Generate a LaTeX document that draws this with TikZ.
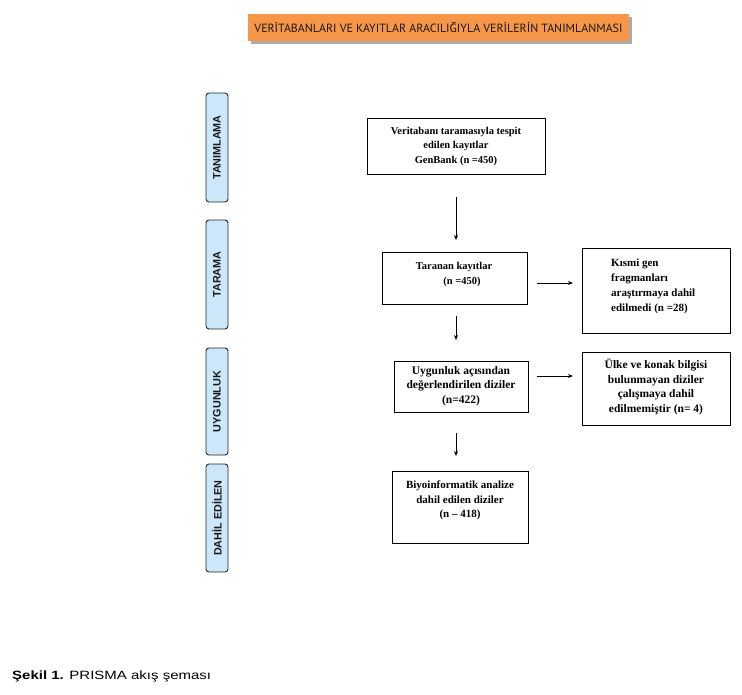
\documentclass[tikz,border=0pt]{standalone}
\usepackage{fontspec}
\setmainfont{Liberation Serif}
\newfontfamily\sansf{Liberation Sans}
\newfontfamily\titlef{PT Sans}
\usetikzlibrary{calc,arrows.meta}
\definecolor{titleorange}{RGB}{247,150,70}
\definecolor{sideblue}{RGB}{204,230,250}
\definecolor{shadowgray}{RGB}{170,170,170}
\definecolor{titletext}{RGB}{25,25,25}
\begin{document}
\begin{tikzpicture}[x=1pt,y=-1pt,
  box/.style={draw=black, line width=0.9pt, inner sep=0pt, outer sep=0pt, anchor=north west},
  txt/.style={inner sep=0pt, align=center, font=\bfseries\fontsize{#1}{14.5}\selectfont},
  txt/.default=10.5,
  side/.style={draw=black!85, line width=0.9pt, rounded corners=3pt, fill=sideblue,
    inner sep=0pt, outer sep=0pt, anchor=north west, minimum width=22pt},
  sidetxt/.style={inner sep=0pt, rotate=90, font=\sansf\bfseries\fontsize{10.8}{12}\selectfont, text=black!90},
  arr/.style={-{Stealth[length=5pt,width=4pt]}, line width=0.8pt},
]
\useasboundingbox[fill=white] (0,0) rectangle (742,694);

% title
\fill[shadowgray] (251,17) rectangle (632,44);
\node[fill=titleorange, inner sep=0pt, outer sep=0pt, minimum width=381pt, minimum height=27pt, anchor=north west,
  font=\titlef\fontsize{11}{13}\selectfont, text=titletext] (title) at (248,14)
  {\resizebox{368pt}{!}{VERİTABANLARI VE KAYITLAR ARACILIĞIYLA VERİLERİN TANIMLANMASI}};

% side labels
\node[side, minimum height=109pt] (s1) at (206,93) {};
\node[sidetxt] (s1t) at (s1.center) {TANIMLAMA};
\node[side, minimum height=109pt] (s2) at (206,220) {};
\node[sidetxt] (s2t) at (s2.center) {TARAMA};
\node[side, minimum height=107pt] (s3) at (206,348) {};
\node[sidetxt] (s3t) at (s3.center) {UYGUNLUK};
\node[side, minimum height=108pt] (s4) at (206,464) {};
\node[sidetxt] (s4t) at (s4.center) {DAHİL EDİLEN};

% main boxes
\node[box, minimum width=178pt, minimum height=56pt] (b1) at (367,118) {};
\node[txt] (b1t) at (456,146) {Veritabanı taramasıyla tespit\\edilen kayıtlar\\GenBank (n =450)};

\node[box, minimum width=145pt, minimum height=52pt] (b2) at (382,252) {};
\node[txt, font=\bfseries\fontsize{10.5}{15}\selectfont] (b2t) at (454,274.5) {Taranan kayıtlar\\\hspace*{16pt}(n =450)};

\node[box, minimum width=148pt, minimum height=85pt] (k1) at (582,248) {};
\node[txt, align=left, anchor=west, font=\bfseries\fontsize{11}{15}\selectfont] (k1t) at (611,286.5) {Kısmi gen\\fragmanları\\araştırmaya dahil\\edilmedi (n =28)};

\node[box, minimum width=134pt, minimum height=51pt] (b3) at (394,361) {};
\node[txt, font=\bfseries\fontsize{11.5}{14.5}\selectfont] (b3t) at (461,386) {Uygunluk açısından\\değerlendirilen diziler\\(n=422)};

\node[box, minimum width=148pt, minimum height=73pt] (u1) at (582,352) {};
\node[txt, font=\bfseries\fontsize{11.5}{14.5}\selectfont] (u1t) at (656,387) {Ülke ve konak bilgisi\\bulunmayan diziler\\çalışmaya dahil\\edilmemiştir (n= 4)};

\node[box, minimum width=136pt, minimum height=72pt] (b4) at (392,471) {};
\node[txt, font=\bfseries\fontsize{11}{14.5}\selectfont] (b4t) at (460,500.5) {Biyoinformatik analize\\dahil edilen diziler\\(n – 418)};

% arrows
\draw[arr, shorten <=23pt, shorten >=12pt] (b1.south) -- (b1.south |- b2.north);
\draw[arr, shorten <=12pt, shorten >=21pt] (b1.south |- b2.south) -- (b1.south |- b3.north);
\draw[arr, shorten <=21pt, shorten >=15pt] (b1.south |- b3.south) -- (b1.south |- b4.north);
\coordinate (r1) at ($(b2.east)+(0,5)$);
\draw[arr, shorten <=10pt, shorten >=9pt] (r1) -- (r1 -| k1.west);
\coordinate (r2) at ($(b3.east)+(0,-10.5)$);
\draw[arr, shorten <=9pt, shorten >=9pt] (r2) -- (r2 -| u1.west);

% caption
\node[anchor=base west, inner sep=0pt, font=\sansf\fontsize{12}{14}\selectfont] (cap) at (12,679)
  {\scalebox{1.25}[1]{\textbf{Şekil 1.} PRISMA akış şeması}};
\end{tikzpicture}
\end{document}
